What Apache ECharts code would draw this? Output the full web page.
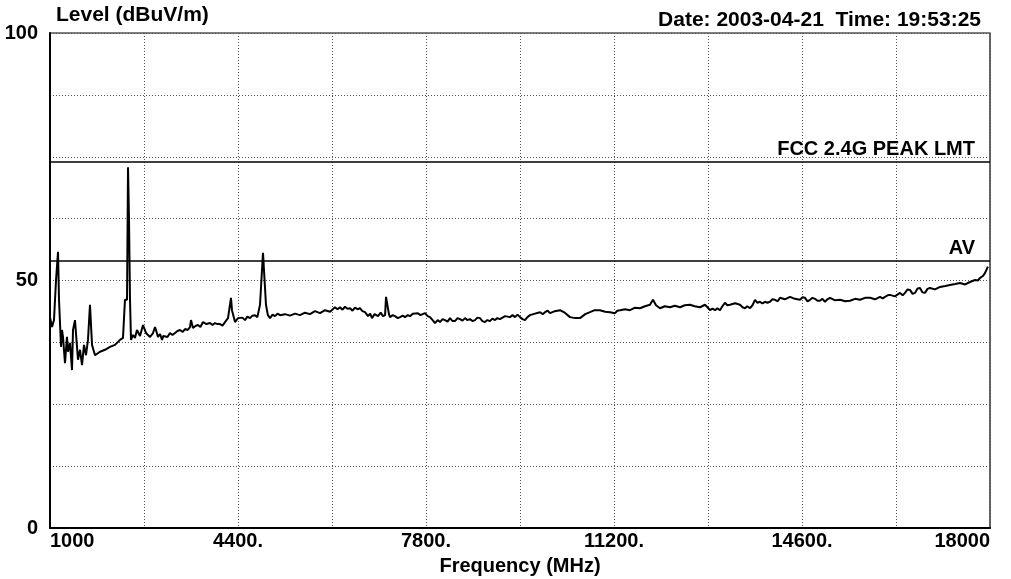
<!DOCTYPE html>
<html>
<head>
<meta charset="utf-8">
<script src="https://cdn.jsdelivr.net/npm/echarts@6/dist/echarts.min.js"></script>
<style>
  html, body { margin: 0; padding: 0; background: #fff; }
  #chart { width: 1011px; height: 579px; }
</style>
</head>
<body>
<div id="chart"></div>
<script>
// 频率 (MHz)
var freqMHz = [
  1000, 1036, 1072, 1109, 1145, 1163, 1199, 1217, 1235, 1271, 1307, 1326, 1362, 1398, 1416, 1452,
  1488, 1506, 1543, 1579, 1615, 1651, 1687, 1723, 1760, 1814, 1904, 1995, 2085, 2176, 2266, 2320,
  2356, 2393, 2411, 2429, 2447, 2465, 2501, 2537, 2573, 2628, 2682, 2736, 2809, 2860, 2899, 2930,
  2953, 2990, 3026, 3050, 3080, 3125, 3170, 3215, 3261, 3305, 3351, 3400, 3442, 3490, 3532, 3550,
  3586, 3630, 3677, 3720, 3767, 3830, 3894, 3940, 3984, 4030, 4074, 4120, 4165, 4219, 4273, 4291,
  4346, 4400, 4436, 4480, 4527, 4570, 4617, 4660, 4707, 4750, 4798, 4852, 4870, 4906, 4940, 4979,
  5025, 5069, 5115, 5160, 5250, 5340, 5431, 5521, 5611, 5702, 5792, 5883, 5973, 6064, 6154, 6200,
  6245, 6290, 6335, 6380, 6426, 6471, 6516, 6561, 6606, 6650, 6697, 6751, 6790, 6823, 6870, 6932,
  6980, 7022, 7060, 7077, 7113, 7130, 7149, 7200, 7239, 7290, 7330, 7380, 7420, 7470, 7511, 7560,
  7655, 7700, 7782, 7830, 7872, 7920, 7963, 8010, 8053, 8100, 8144, 8190, 8234, 8280, 8324, 8370,
  8415, 8460, 8505, 8550, 8596, 8640, 8686, 8730, 8777, 8820, 8867, 8910, 8957, 9000, 9048, 9090,
  9138, 9230, 9319, 9365, 9410, 9455, 9500, 9545, 9590, 9635, 9681, 9770, 9862, 9910, 9952, 10000,
  10043, 10130, 10223, 10310, 10404, 10500, 10585, 10680, 10766, 10850, 10947, 11040, 11128, 11218, 11260, 11308,
  11400, 11489, 11580, 11670, 11760, 11851, 11905, 11960, 12032, 12120, 12213, 12300, 12394, 12480, 12574, 12660,
  12755, 12846, 12890, 12936, 12980, 13027, 13070, 13117, 13160, 13207, 13250, 13298, 13390, 13479, 13525, 13569,
  13610, 13660, 13705, 13750, 13795, 13840, 13885, 13931, 13975, 14021, 14065, 14112, 14160, 14202, 14290, 14383,
  14470, 14564, 14610, 14654, 14700, 14745, 14790, 14835, 14880, 14925, 14970, 15016, 15060, 15106, 15200, 15287,
  15380, 15468, 15560, 15649, 15740, 15830, 15920, 16011, 16060, 16101, 16150, 16191, 16280, 16372, 16420, 16463,
  16510, 16553, 16600, 16644, 16690, 16734, 16780, 16824, 16870, 16915, 17005, 17096, 17190, 17277, 17370, 17457,
  17550, 17638, 17729, 17780, 17819, 17870, 17909, 17945, 17962
];
// 电平 (dBuV/m)
var levelDb = [
  42.6, 40.6, 42.0, 50.1, 55.8, 46.1, 36.6, 40.0, 38.6, 33.3, 38.6, 35.6, 37.4, 31.9, 40.0, 42.0,
  42.0, 34.0, 36.0, 32.9, 37.0, 34.9, 38.0, 45.1, 37.0, 34.9, 35.6, 36.0, 36.6, 37.0, 38.0, 38.4,
  46.1, 46.1, 72.9, 62.2, 46.1, 38.0, 39.0, 38.4, 40.0, 38.8, 41.0, 39.4, 38.6, 39.3, 40.6, 39.5,
  38.6, 39.2, 38.0, 38.8, 39.0, 38.6, 39.4, 39.0, 39.4, 39.8, 40.0, 39.6, 40.2, 40.0, 40.6, 42.0,
  40.4, 40.8, 41.0, 40.6, 41.6, 41.2, 41.4, 41.0, 41.4, 41.2, 41.2, 40.9, 41.6, 42.4, 46.5, 44.0,
  41.6, 42.4, 42.0, 42.5, 42.0, 42.7, 42.4, 42.9, 43.0, 42.6, 45.1, 55.6, 52.1, 45.1, 43.0, 42.4,
  43.1, 42.8, 43.3, 43.0, 43.2, 42.9, 43.3, 43.0, 43.5, 43.2, 43.8, 43.4, 44.0, 43.7, 44.6, 44.2,
  44.6, 44.1, 44.7, 44.3, 44.4, 43.9, 44.5, 44.2, 44.4, 43.8, 43.6, 42.8, 43.3, 42.4, 43.2, 42.8,
  43.5, 42.8, 43.0, 46.7, 46.5, 43.2, 42.6, 43.0, 42.8, 42.4, 42.6, 42.9, 42.6, 43.0, 42.8, 43.3,
  43.4, 43.0, 43.4, 42.8, 42.6, 42.0, 41.4, 42.0, 41.6, 42.2, 42.0, 41.7, 42.4, 41.8, 41.8, 42.4,
  42.2, 41.9, 42.4, 42.0, 42.2, 41.8, 42.0, 42.5, 42.4, 41.8, 41.6, 42.0, 41.8, 42.3, 42.0, 42.4,
  42.2, 42.8, 42.6, 43.0, 42.6, 43.1, 42.6, 42.2, 42.0, 42.6, 43.0, 43.3, 43.6, 43.2, 43.6, 43.9,
  43.4, 43.8, 44.0, 43.5, 42.6, 42.4, 42.4, 43.2, 43.6, 44.0, 44.0, 43.7, 43.6, 43.4, 43.9, 44.0,
  44.2, 44.0, 44.5, 44.4, 44.8, 45.1, 46.1, 45.0, 44.4, 44.8, 44.6, 44.9, 44.6, 45.0, 45.1, 44.8,
  44.6, 45.1, 44.6, 44.0, 44.3, 44.0, 44.4, 44.0, 44.8, 45.5, 45.0, 45.1, 45.4, 45.1, 44.6, 44.4,
  44.8, 44.4, 45.0, 46.1, 45.5, 45.7, 45.4, 45.7, 45.5, 45.7, 46.2, 46.1, 45.8, 46.5, 46.2, 46.7,
  46.3, 46.1, 46.6, 46.5, 45.8, 46.1, 46.5, 46.3, 45.9, 45.9, 46.3, 45.7, 46.2, 46.5, 46.0, 46.1,
  45.8, 45.9, 46.3, 46.1, 46.5, 46.5, 46.2, 46.7, 46.4, 46.7, 47.0, 47.1, 46.8, 47.5, 47.0, 47.5,
  48.2, 48.1, 47.3, 47.5, 48.4, 48.5, 47.6, 47.5, 48.3, 48.5, 48.2, 48.7, 48.9, 49.1, 49.3, 49.5,
  49.2, 49.7, 50.1, 50.0, 50.5, 50.9, 51.5, 51.7, 52.8
];
// 坐标轴刻度标签
var xTickValues = [1000, 4400, 7800, 11200, 14600, 18000];
var xTickLabels = ["1000", "4400.", "7800.", "11200.", "14600.", "18000"];
var yTickLabels = ["0", "50", "100"];
// 限值线
var limitLevels = [74, 54];
var limitNames = ["FCC 2.4G PEAK LMT", "AV"];

var chart = echarts.init(document.getElementById("chart"), null, { renderer: "canvas" });

var font = "'Liberation Sans', Arial, sans-serif";
var gridLine = { show: true, lineStyle: { color: "#555", width: 1, type: [1, 2] } };

var traceData = freqMHz.map(function (f, i) { return [f, levelDb[i]]; });
var limitLines = limitLevels.map(function (v, i) {
  return { yAxis: v, label: { formatter: limitNames[i] } };
});

chart.setOption({
  animation: false,
  backgroundColor: "#fff",
  title: [
    {
      text: "Level (dBuV/m)", left: 51, top: 0,
      textStyle: { fontFamily: font, fontWeight: "bold", fontSize: 21, color: "#000" }
    },
    {
      text: "Date: 2003-04-21  Time: 19:53:25", right: 25, top: 5,
      textStyle: { fontFamily: font, fontWeight: "bold", fontSize: 21, color: "#000" }
    }
  ],
  grid: {
    left: 50, right: 21, top: 33, bottom: 51,
    show: true, borderColor: "#000", borderWidth: 1.2,
    containLabel: false, outerBoundsMode: "none"
  },
  xAxis: {
    type: "value",
    min: 1000, max: 18000, interval: 3400,
    name: "Frequency (MHz)", nameLocation: "middle", nameGap: 28,
    nameTextStyle: { fontFamily: font, fontWeight: "bold", fontSize: 20, color: "#000" },
    axisLine: { show: true, lineStyle: { color: "#000", width: 2 } },
    axisTick: { show: false },
    axisLabel: {
      margin: 3, color: "#000", fontFamily: font, fontWeight: "bold", fontSize: 20,
      alignMinLabel: "left", alignMaxLabel: "right",
      formatter: function (v) {
        var k = xTickValues.indexOf(v);
        return k >= 0 ? xTickLabels[k] : "";
      }
    },
    splitLine: gridLine,
    minorTick: { show: false, splitNumber: 2 },
    minorSplitLine: gridLine
  },
  yAxis: {
    type: "value",
    min: 0, max: 100, interval: 50,
    axisLine: { show: true, lineStyle: { color: "#000", width: 2 } },
    axisTick: { show: false },
    axisLabel: {
      margin: 12, color: "#000", fontFamily: font, fontWeight: "bold", fontSize: 20,
      formatter: function (v) { return yTickLabels[v / 50]; }
    },
    splitLine: gridLine,
    minorTick: { show: false, splitNumber: 4 },
    minorSplitLine: gridLine
  },
  series: [
    {
      type: "line",
      data: traceData,
      showSymbol: false,
      lineStyle: { color: "#000", width: 2 },
      markLine: {
        silent: true,
        symbol: "none",
        lineStyle: { color: "#000", width: 1.5, type: "solid" },
        label: {
          position: "insideEndTop", distance: [15, 2],
          color: "#000", fontFamily: font, fontWeight: "bold", fontSize: 20
        },
        data: limitLines
      }
    }
  ]
});
</script>
</body>
</html>
